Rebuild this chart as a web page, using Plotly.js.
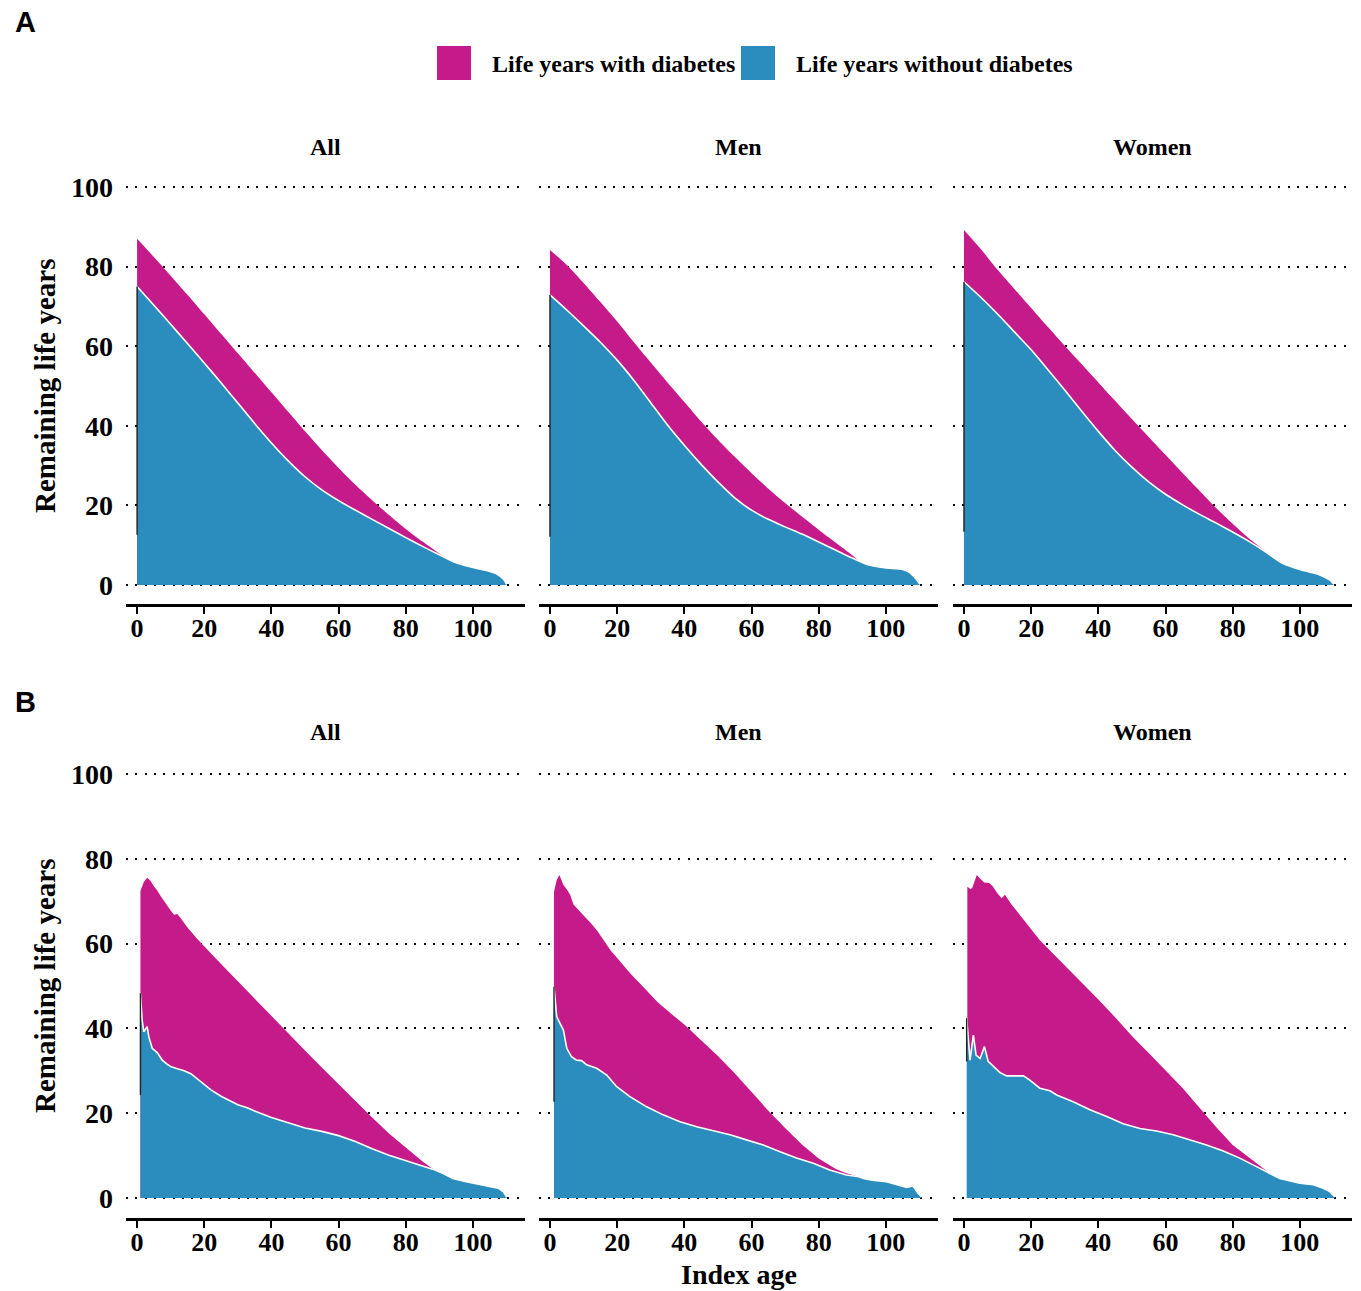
<!DOCTYPE html>
<html>
<head>
<meta charset="utf-8">
<script src="https://cdn.plot.ly/plotly-3.0.1.min.js"></script>
<style>html,body{margin:0;padding:0;background:#fff;}#chart{width:1361px;height:1291px;}</style>
</head>
<body>
<div id="chart"></div>
<script>
// ---------- DATA ----------
const seriesNames = ["Life years with diabetes", "Life years without diabetes"];
const panelTitles = ["All", "Men", "Women"];
const xTicks = [0, 20, 40, 60, 80, 100];
const yTicks = [0, 20, 40, 60, 80, 100];

// Panel A (total remaining life years = with + without diabetes)
const ageA_all_total = [0,5,10,15,20,25,30,35,40,45,50,55,60,65,70,75,80,85,90,92];
const totalA_all     = [87,82.4,77.7,72.9,68.0,63.1,58.2,53.3,48.4,43.5,38.6,33.9,29.4,25.2,21.3,17.6,14.1,10.9,7.9,6.8];
const ageA_all_free  = [0,5,10,15,20,25,30,35,40,45,50,55,60,65,70,75,80,85,90,95,100,105,107,109,110];
const freeA_all      = [75,70.3,65.5,60.7,55.8,50.8,45.7,40.6,35.7,31.2,27.2,23.9,21.2,18.8,16.5,14.2,11.9,9.7,7.6,5.6,4.4,3.4,2.8,1.5,0.2];

const ageA_men_total = [0,5,10,15,20,25,30,35,40,45,50,55,60,65,70,75,80,85,90,92];
const totalA_men     = [84.2,80.4,75.9,71.1,66.2,61.0,55.9,50.9,46.0,41.1,36.5,32.2,28.1,24.2,20.6,17.2,13.9,10.7,7.5,6.1];
const ageA_men_free  = [0,5,10,15,20,25,30,35,40,45,50,55,60,65,70,75,80,85,90,95,100,105,107,109,110];
const freeA_men      = [72.9,69.1,65.1,61.0,56.5,51.4,45.8,40.2,35.1,30.3,25.9,21.9,18.8,16.5,14.6,12.8,10.8,8.8,6.8,5.0,4.3,3.9,3.2,1.5,0.3];

const ageA_wom_total = [0,5,10,15,20,25,30,35,40,45,50,55,60,65,70,75,80,85,90,92];
const totalA_wom     = [89.2,84.4,79.2,74.4,69.6,64.8,60.1,55.5,50.9,46.3,41.7,37.2,32.7,28.2,23.8,19.4,15.4,11.6,8.3,7.0];
const ageA_wom_free  = [0,5,10,15,20,25,30,35,40,45,50,55,60,65,70,75,80,85,90,92,95,100,105,107,109,110];
const freeA_wom      = [76.2,72.3,68.1,63.6,59.1,54.1,49.0,43.7,38.6,33.8,29.6,25.9,22.8,20.2,17.8,15.6,13.3,10.9,8.2,7.0,5.4,3.9,2.8,2.1,1.2,0.3];

// Panel B
const ageB_all_total = [1,2,3,4,5,6,7,8,9,10,11,12,13,15,18,20,25,30,35,40,45,50,55,60,65,70,75,80,85,88,91];
const totalB_all     = [72.4,74.5,75.5,74.8,73.5,72.5,71.2,70,68.8,67.8,66.8,67,66,63.8,61,59.4,55.2,51.1,47,42.8,38.8,34.8,30.8,26.8,22.8,19,15.2,11.8,8.6,6.9,5.8];
const ageB_all_free  = [1,1.5,2,3,3.5,4.5,6,7.5,9,10,12,14,16,18,20,22,25,28,30,33,35,40,45,50,55,60,65,70,75,80,85,88,91,94,98,103,107.5,109,110];
const freeB_all      = [48.3,42,39.2,40.4,38,35.3,34.3,32.5,31.5,31,30.5,30,29.3,28,26.8,25.5,24,22.8,22,21.2,20.5,19,17.7,16.5,15.7,14.7,13.3,11.6,10.1,8.8,7.5,6.8,5.8,4.6,3.85,3.1,2.3,1.5,0.3];

const ageB_men_total = [1.2,2,2.8,4,5,6,7,8,10,12,14,16,18,20,24,28,32,36,40,45,50,55,60,65,70,75,80,85,88,92];
const totalB_men     = [72.2,75,76.2,73.8,72.8,71.5,69.2,68.3,66.6,65,63.1,60.8,58.4,56.6,52.9,49.6,46.2,43.5,40.9,37.2,33.5,29.4,25,20.6,16.5,12.6,9.3,6.9,5.9,5.0];
const ageB_men_free  = [1.2,2,3,4,5,6.4,7.9,9.4,10.9,13.9,16.9,19.8,23.8,28.8,33.7,38.7,43.7,48.6,53.6,58.5,63.5,68.5,73.4,78.4,83.3,88.3,92,93.3,96,100.2,103.2,106.2,108.1,109.6,110.6];
const freeB_men      = [49.8,42.8,41.2,39.6,35.3,33.3,32.5,32.4,31.4,30.6,29,26.3,23.9,21.5,19.6,18,16.8,15.8,14.9,13.7,12.5,10.9,9.4,8.2,6.6,5.4,5.0,4.6,4.2,3.85,3.1,2.5,2.8,1.1,0.3];

const ageB_wom_total = [1,2,2.5,3.8,5,6,7.5,8.5,10,11.2,12.2,14,16,18,20,22.6,25,30,32.5,35,40,45,50,55,60,65,70,75,80,85,88,91];
const totalB_wom     = [73.4,72.8,73.2,76.2,75.2,74.4,74.3,73.6,71.8,70.7,71.5,69.4,67.4,65.5,63.4,60.8,58.9,54.9,52.9,50.9,46.8,42.6,38.2,34.2,30,26,21.4,16.8,12.5,9.4,7.6,5.8];
const ageB_wom_free  = [0.8,1.8,2.8,3.6,4.8,6.1,7.2,8.7,10.7,12.7,17.7,19.6,22.6,25.6,27.6,32.5,37.5,42.5,47.4,52.4,57.3,62.3,67.3,72.2,77.2,82.1,87.1,91,94,100,104,107,108.9,110.4];
const freeB_wom      = [42.4,32.5,38.4,33.7,32.9,35.7,32.2,31,29.6,28.8,28.8,27.8,25.9,25.3,24.3,22.7,20.8,19.2,17.5,16.4,15.8,14.9,13.7,12.5,11.1,9.4,7.4,5.8,4.6,3.5,3.1,2.3,1.5,0.3];

// Vertical edge segment at the start age of each panel: [age, top, bottom]
const edgeA_all = [0, 75, 12.6];
const edgeA_men = [0, 72.9, 12.1];
const edgeA_wom = [0, 76.2, 13.4];
const edgeB_all = [1, 48.3, 24.3];
const edgeB_men = [1.2, 49.8, 22.7];
const edgeB_wom = [0.8, 42.4, 32.2];

// ---------- STYLE / LAYOUT ----------
const colWith = "#C51B8A";
const colWithout = "#2B8CBE";
const serif = "Liberation Serif, Times New Roman, serif";
const W = 1361, H = 1291;

const panels = [
  {tA: ageA_all_total, t: totalA_all, fA: ageA_all_free, f: freeA_all, e: edgeA_all},
  {tA: ageA_men_total, t: totalA_men, fA: ageA_men_free, f: freeA_men, e: edgeA_men},
  {tA: ageA_wom_total, t: totalA_wom, fA: ageA_wom_free, f: freeA_wom, e: edgeA_wom},
  {tA: ageB_all_total, t: totalB_all, fA: ageB_all_free, f: freeB_all, e: edgeB_all},
  {tA: ageB_men_total, t: totalB_men, fA: ageB_men_free, f: freeB_men, e: edgeB_men},
  {tA: ageB_wom_total, t: totalB_wom, fA: ageB_wom_free, f: freeB_wom, e: edgeB_wom}
];

// pixel domains
const colPx = [[126, 525], [538.9, 937.9], [952.9, 1351.9]];
const rowPx = [[167.1, 604.1], [752.8, 1218.1]];
const rowRange = [[-4.8, 105], [-4.75, 105]];

const traces = [];
const layout = {
  width: W, height: H,
  margin: {l: 0, r: 0, t: 0, b: 0},
  paper_bgcolor: "#fff", plot_bgcolor: "rgba(0,0,0,0)",
  showlegend: false,
  font: {family: serif, color: "#000"},
  annotations: [], shapes: []
};

panels.forEach((p, i) => {
  const row = Math.floor(i / 3), col = i % 3;
  const n = i + 1;
  const xa = n === 1 ? "x" : "x" + n;
  const ya = n === 1 ? "y" : "y" + n;
  const shp = row === 0 ? "spline" : "linear";
  traces.push({
    x: p.tA, y: p.t, xaxis: xa, yaxis: ya, type: "scatter", mode: "lines",
    fill: "tozeroy", fillcolor: colWith, line: {width: 0, color: colWith, shape: shp, smoothing: 0.8},
    name: seriesNames[0], hoverinfo: "skip"
  });
  traces.push({
    x: p.fA, y: p.f, xaxis: xa, yaxis: ya, type: "scatter", mode: "lines",
    fill: "tozeroy", fillcolor: colWithout, line: {width: 1.6, color: "#ffffff", shape: shp, smoothing: 0.8},
    name: seriesNames[1], hoverinfo: "skip"
  });
  traces.push({
    x: [p.e[0], p.e[0]], y: [p.e[1], p.e[2]], xaxis: xa, yaxis: ya, type: "scatter", mode: "lines",
    line: {width: 1.4, color: "#222"}, hoverinfo: "skip"
  });
  const xd = colPx[col].map(v => v / W);
  const yd = [1 - rowPx[row][1] / H, 1 - rowPx[row][0] / H];
  layout["xaxis" + (n === 1 ? "" : n)] = {
    domain: xd, anchor: ya, range: [-3.3, 115.5],
    tickvals: xTicks, ticktext: xTicks.map(String),
    showline: true, linecolor: "#000", linewidth: 2.5,
    ticks: "outside", ticklen: 7, tickwidth: 2, tickcolor: "#000",
    ticklabelstandoff: -8,
    showgrid: false, zeroline: false,
    tickfont: {family: serif, size: 26, weight: "bold", color: "#000"}
  };
  layout["yaxis" + (n === 1 ? "" : n)] = {
    domain: yd, anchor: xa, range: rowRange[row],
    tickvals: yTicks, ticktext: yTicks.map(String),
    showticklabels: col === 0, ticks: "", ticklabelstandoff: 12,
    showline: false, zeroline: false,
    showgrid: true, gridcolor: "#000", gridwidth: 2, griddash: "2px,7.3px",
    tickfont: {family: serif, size: 28, weight: "bold", color: "#000"}
  };
  // strip titles
  layout.annotations.push({
    xref: "paper", yref: "paper", x: (xd[0] + xd[1]) / 2,
    y: 1 - (row === 0 ? 147 : 732) / H, xanchor: "center", yanchor: "middle",
    text: panelTitles[col], showarrow: false,
    font: {family: serif, size: 24, weight: "bold", color: "#000"}
  });
});

// y-axis titles
[386, 986].forEach(yc => {
  layout.annotations.push({
    xref: "paper", yref: "paper", x: 45 / W, y: 1 - yc / H,
    xanchor: "center", yanchor: "middle", textangle: -90,
    text: "Remaining life years", showarrow: false,
    font: {family: serif, size: 29, weight: "bold", color: "#000"}
  });
});
// x-axis title
layout.annotations.push({
  xref: "paper", yref: "paper", x: 739 / W, y: 0,
  xanchor: "center", yanchor: "bottom", text: "Index age", showarrow: false,
  borderpad: 0,
  font: {family: serif, size: 28, weight: "bold", color: "#000"}
});
// panel letters
[["A", 22], ["B", 702]].forEach(([t, yc]) => {
  layout.annotations.push({
    xref: "paper", yref: "paper", x: 25 / W, y: 1 - yc / H,
    xanchor: "center", yanchor: "middle", text: t, showarrow: false,
    font: {family: "Liberation Sans, Arial, sans-serif", size: 29, weight: "bold", color: "#000"}
  });
});
// legend (keys + labels)
[[437, 490, colWith, seriesNames[0]], [741, 794, colWithout, seriesNames[1]]].forEach(([kx, tx, c, t]) => {
  layout.shapes.push({
    type: "rect", xref: "paper", yref: "paper",
    x0: kx / W, x1: (kx + 34) / W, y0: 1 - 80 / H, y1: 1 - 46 / H,
    fillcolor: c, line: {width: 0}
  });
  layout.annotations.push({
    xref: "paper", yref: "paper", x: tx / W, y: 1 - 64 / H,
    xanchor: "left", yanchor: "middle", text: t, showarrow: false,
    font: {family: serif, size: 24, weight: "bold", color: "#000"}
  });
});

Plotly.newPlot("chart", traces, layout, {staticPlot: true, displayModeBar: false});
</script>
</body>
</html>
